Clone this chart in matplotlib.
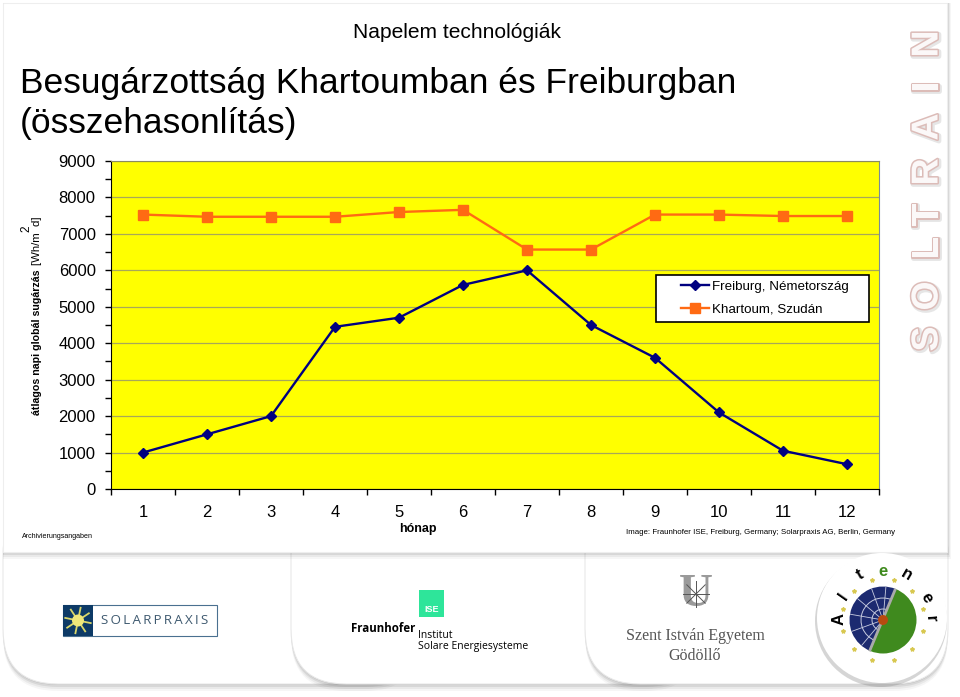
import matplotlib
matplotlib.use("Agg")
import math
import matplotlib.pyplot as plt
from matplotlib.legend_handler import HandlerLine2D
from matplotlib.patches import FancyBboxPatch, Rectangle, Circle, Wedge, Arc
import matplotlib.patheffects as pe

plt.rcParams['font.family'] = ['Liberation Sans', 'DejaVu Sans']

# Adatok
months = [1, 2, 3, 4, 5, 6, 7, 8, 9, 10, 11, 12]
freiburg = [1000, 1500, 2000, 4450, 4700, 5600, 6000, 4500, 3600, 2100, 1050, 680]
khartoum = [7530, 7470, 7470, 7470, 7600, 7660, 6570, 6570, 7530, 7530, 7490, 7490]
y_ticks = [0, 1000, 2000, 3000, 4000, 5000, 6000, 7000, 8000, 9000]
soltrain_letters = ["N", "I", "A", "R", "T", "L", "O", "S"]
soltrain_y = [44, 87, 127, 172, 215, 248, 296, 339]

W, H = 960, 697
fig = plt.figure(figsize=(W / 100, H / 100), dpi=100, facecolor='white')

# Hatter, pixel koordinatakkal
bg = fig.add_axes([0, 0, 1, 1], zorder=0)
bg.set_xlim(0, W)
bg.set_ylim(H, 0)
bg.axis('off')


def panel(x0, y0, x1, y1, rad, z):
    # lepcsozetes arnyek
    for i, a in zip([7, 5, 3, 1], [0.05, 0.08, 0.12, 0.18]):
        bg.add_patch(FancyBboxPatch((x0 + rad, y0 + rad), x1 - x0 - 2 * rad, y1 - y0 - 2 * rad + i,
                                    boxstyle=f"round,pad={rad},rounding_size={rad}",
                                    fc='#555555', ec='none', alpha=a, zorder=z))
    bg.add_patch(FancyBboxPatch((x0 + rad, y0 + rad), x1 - x0 - 2 * rad, y1 - y0 - 2 * rad,
                                boxstyle=f"round,pad={rad},rounding_size={rad}",
                                fc='white', ec='#e8e8e8', lw=0.8, zorder=z + 0.1))


panel(3, 500, 420, 684, 55, 1)
panel(291, 500, 700, 684, 55, 2)
panel(585, 500, 948, 684, 55, 3)

# felso lap
for i, a in zip([7, 5, 3, 1], [0.05, 0.08, 0.12, 0.18]):
    bg.add_patch(Rectangle((3, 3), 944 + i / 2, 549 + i, fc='#555555', ec='none', alpha=a, zorder=5))
bg.add_patch(Rectangle((3, 3), 944, 549, fc='white', ec='#eeeeee', lw=0.8, zorder=5.1))

# Feliratok
bg.text(457, 32, "Napelem technológiák", fontsize=15.1, ha='center', va='center', zorder=6)
bg.text(20, 83, "Besugárzottság Khartoumban és Freiburgban", fontsize=25.5, ha='left', va='center', zorder=6)
bg.text(20, 123, "(összehasonlítás)", fontsize=25.5, ha='left', va='center', zorder=6)

bg.text(37, 415, "átlagos napi globál sugárzás", fontsize=7.7, fontweight='bold', rotation=90,
        ha='center', va='bottom', zorder=6)
bg.text(37, 265, "[Wh/m  d]", fontsize=8.2, rotation=90, ha='center', va='bottom', zorder=6)
bg.text(26, 229, "2", fontsize=8.5, rotation=90, ha='center', va='center', zorder=6)

bg.text(418, 529, "hónap", fontsize=9, fontweight='bold', ha='center', va='center', zorder=6)
bg.text(57, 537, "Archivierungsangaben", fontsize=5.1, ha='center', va='center', zorder=6)
bg.text(761, 533, "Image: Fraunhofer ISE, Freiburg, Germany; Solarpraxis AG, Berlin, Germany",
        fontsize=5.7, ha='center', va='center', zorder=6)

# SOLTRAIN felirat
for letter, ly in zip(soltrain_letters, soltrain_y):
    bg.text(927.5, ly, letter, fontsize=27, fontweight='bold', rotation=90, ha='center', va='center',
            color='#fbf8f8', zorder=6,
            path_effects=[pe.Stroke(linewidth=3.5, foreground='#e6e6e6', offset=(1, -1)),
                          pe.Stroke(linewidth=2.2, foreground='#dcbcb8'),
                          pe.Normal()])

# Solarpraxis logo
bg.add_patch(Rectangle((63, 605), 154, 31, fc='white', ec='#4a7090', lw=0.8, zorder=6))
bg.add_patch(Rectangle((63, 605), 30, 31, fc='#0d3a66', ec='none', zorder=6.1))
for k in range(8):
    ang = k * math.pi / 4 + 0.2
    bg.plot([78 + 6 * math.cos(ang), 78 + 13 * math.cos(ang)], [620.5 + 6 * math.sin(ang), 620.5 + 13 * math.sin(ang)],
            color='#d9d76a', lw=1.3, zorder=6.2)
bg.add_patch(Circle((78, 620.5), 6, fc='#efe77a', ec='none', zorder=6.3))
bg.text(155, 621, "\u2009".join("SOLARPRAXIS"), fontsize=9.6, color='#3f5a70', ha='center', va='center', zorder=6,
        fontfamily=['Open Sans', 'DejaVu Sans'])

# Fraunhofer logo
bg.add_patch(Rectangle((419, 590), 25, 27, fc='#2ee59a', ec='none', zorder=6))
bg.text(431.5, 610, "ISE", fontsize=6.5, color='white', fontweight='bold', ha='center', va='center', zorder=6.1)
bg.text(351, 629, "Fraunhofer", fontsize=8.3, fontweight='bold', fontfamily='Open Sans', ha='left', va='center', zorder=6)
bg.text(418, 635, "Institut", fontsize=7.5, fontfamily='Open Sans', ha='left', va='center', zorder=6)
bg.text(418, 647, "Solare Energiesysteme", fontsize=7.5, fontfamily='Open Sans', ha='left', va='center', zorder=6)

# Szent Istvan logo
bg.text(696, 595, "U", fontsize=34, fontweight='bold', fontfamily='Liberation Serif', color='#9a9a9a',
        ha='center', va='center', zorder=6)
for k in range(4):
    ang = k * math.pi / 4
    bg.plot([696 - 13 * math.cos(ang), 696 + 13 * math.cos(ang)], [594 - 13 * math.sin(ang), 594 + 13 * math.sin(ang)],
            color='#555555', lw=0.7, zorder=6.1)
bg.text(695, 636, "Szent István Egyetem", fontsize=11.5, fontfamily='Liberation Serif', color='#555555',
        ha='center', va='center', zorder=6)
bg.text(695, 656, "Gödöllő", fontsize=11.5, fontfamily='Liberation Serif', color='#555555',
        ha='center', va='center', zorder=6)

# Altener logo
bg.add_patch(Circle((881, 621), 66, fc='#777777', ec='none', alpha=0.3, zorder=6))
bg.add_patch(Circle((882, 618), 65, fc='white', ec='none', zorder=6.1))
bg.add_patch(Wedge((883, 620), 33.5, 112, 292, fc='#1c2a70', ec='none', zorder=6.2))
bg.add_patch(Wedge((883, 620), 33.5, 292, 112, fc='#3f8a1e', ec='none', zorder=6.2))
for rad in [11, 22]:
    bg.add_patch(Arc((883, 620), 2 * rad, 2 * rad, theta1=112, theta2=292, ec='#c8cce0', lw=0.7, zorder=6.3))
for ang in [130, 160, 190, 220, 250, 275]:
    bg.plot([883, 883 + 33 * math.cos(math.radians(ang))], [620, 620 + 33 * math.sin(math.radians(ang))],
            color='#c8cce0', lw=0.6, zorder=6.3)
bg.plot([895, 870], [590, 650], color='#aaaaaa', lw=2, zorder=6.4)
bg.add_patch(Circle((883, 620), 5, fc='#b84a10', ec='none', zorder=6.5))
for k in range(12):
    ang = math.radians(15 + 30 * k)
    bg.plot(883 + 41 * math.cos(ang), 620 + 41 * math.sin(ang), marker='*', ms=3, color='#d8c850', zorder=6.3)
for t, tx, ty, rot, col in [("A", 839, 619, 90, 'black'), ("l", 843, 597, 55, 'black'), ("t", 860, 575, 30, 'black'),
                            ("e", 883, 572, 0, '#3f8a1e'), ("n", 907, 575, -30, 'black'),
                            ("e", 927, 598, -60, 'black'), ("r", 931, 619, -85, 'black')]:
    bg.text(tx, ty, t, fontsize=12, fontweight='bold', color=col, rotation=rot,
            ha='center', va='center', zorder=6.6)

# A diagram
ax = fig.add_axes([111 / W, 1 - 489 / H, 768 / W, 328 / H], zorder=2)
ax.set_facecolor('#ffff00')
ax.set_xlim(0.5, 12.5)
ax.set_ylim(0, 9000)

ax.plot(months, freiburg, color='#000080', lw=1.7, marker='D', ms=5.2, mfc='#000080', mec='#000080',
        label="Freiburg, Németország", zorder=3)
ax.plot(months, khartoum, color='#ff6a13', lw=1.7, marker='s', ms=7, mfc='#ff6a13', mec='#ff6a13',
        label="Khartoum, Szudán", zorder=3)

ax.set_yticks(y_ticks)
ax.set_yticks(range(500, 9000, 1000), minor=True)
ax.grid(axis='y', which='major', color='#a8a858', lw=0.9)
ax.set_axisbelow(True)
ax.tick_params(axis='y', which='major', length=4, width=1, labelsize=12, pad=7, color='black')
ax.tick_params(axis='y', which='minor', length=4, width=1, color='black')

# x tengely: a beosztas a honapok kozott van
ax.set_xticks([m + 0.5 for m in [0] + months])
ax.set_xticklabels([])
ax.set_xticks(months, minor=True)
ax.set_xticklabels([str(m) for m in months], minor=True)
ax.tick_params(axis='x', which='major', length=4, width=1, color='black')
ax.tick_params(axis='x', which='minor', length=0, labelsize=12, pad=11.5)

ax.spines['left'].set_color('black')
ax.spines['bottom'].set_color('black')
ax.spines['top'].set_color('#8a8a60')
ax.spines['right'].set_color('#7a8a99')

leg = ax.legend(loc='upper left', bbox_to_anchor=(656 / W, 1 - 323 / H, 213 / W, 48 / H),
                bbox_transform=fig.transFigure, mode='expand', fontsize=9.6, frameon=True,
                fancybox=False, framealpha=1, edgecolor='black', borderpad=0.425, labelspacing=0.8,
                handlelength=3.55, handletextpad=0.2, borderaxespad=0,
                handler_map={plt.Line2D: HandlerLine2D(xpad=1.45)})
leg.get_frame().set_linewidth(1.2)
leg.get_frame().set_facecolor('white')

fig.savefig("out.png", dpi=100)
